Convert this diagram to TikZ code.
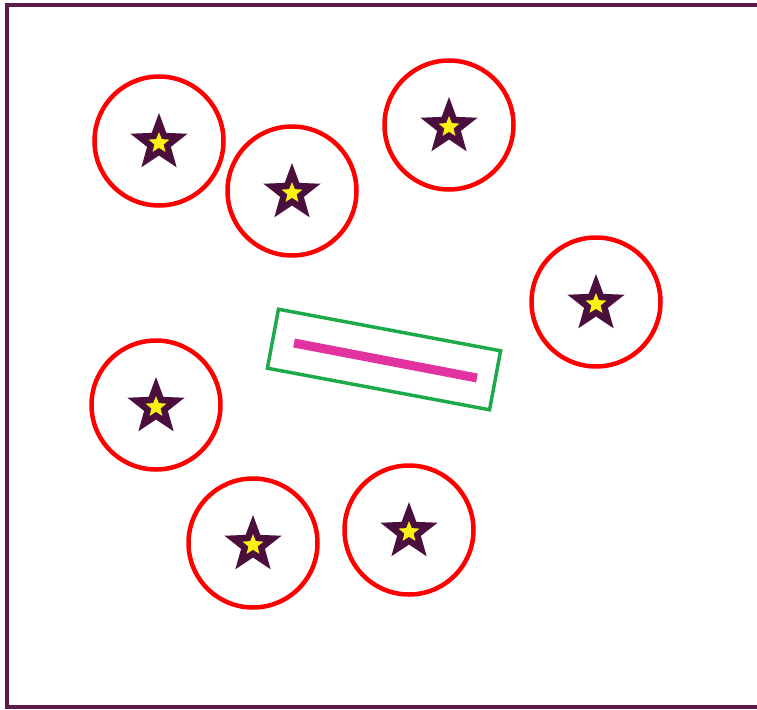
\documentclass[tikz,border=0pt]{standalone}
\definecolor{fc}{RGB}{90,26,74}
\definecolor{sc}{RGB}{75,15,62}
\definecolor{gc}{RGB}{30,170,75}
\definecolor{mc}{RGB}{225,50,160}
\definecolor{yc}{RGB}{250,240,20}
\tikzset{ring/.style={draw=red,line width=4.5pt,circle,minimum size=129pt,inner sep=0pt},
 tray/.style={draw=gc,line width=3.5pt,minimum width=226pt,minimum height=60pt,rotate=-10.6},
 bar/.style={mc,line width=9pt},
 pics/starmark/.style={code={
  \fill[sc] (-90:30) \foreach \a in {1,...,9}{ -- ({-90+36*\a}:{ifthenelse(mod(\a,2)==1,12.5,30)}) } -- cycle;
  \fill[yc] (-90:11) \foreach \a in {1,...,9}{ -- ({-90+36*\a}:{ifthenelse(mod(\a,2)==1,4.8,11)}) } -- cycle;}}}
\begin{document}
\begin{tikzpicture}[x=1pt,y=-1pt]
\useasboundingbox (0,0) rectangle (757,709);
\draw[fc,line width=3.5pt] (760,5)--(7,5)--(7,707)--(760,707);
\foreach \n/\x/\y in {1/159/141,2/292/191,3/449/125,4/596/302,5/156/405,6/253/543,7/409/530}{
\node[ring] (c\n) at (\x,\y) {};
\pic at ([yshift=-2pt]c\n.center) {starmark};}
\node[tray] (t) at (384,359.5) {};
\coordinate (b1) at (294,343);
\coordinate (b2) at (477,378);
\draw[bar] (b1)--(b2);
\end{tikzpicture}
\end{document}
